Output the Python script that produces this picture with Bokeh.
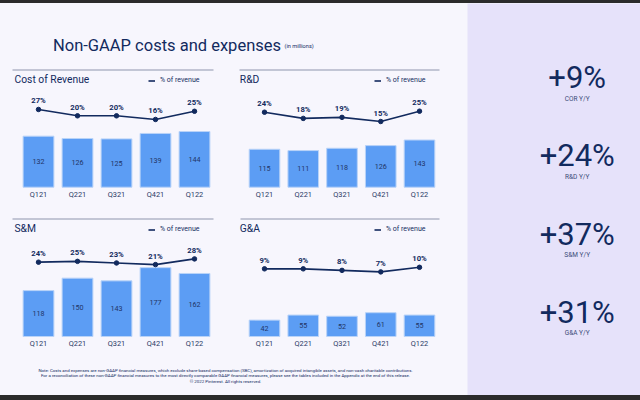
from bokeh.plotting import figure
from bokeh.models import FactorRange, Range1d, Label, ColumnDataSource, Legend, LegendItem, Div
from bokeh.layouts import row, column
from bokeh.transform import dodge
from bokeh.embed import file_html
from bokeh.resources import INLINE
from bokeh.core.properties import value

# ---------------- data ----------------
quarters = ["Q121", "Q221", "Q321", "Q421", "Q122"]
cor_values = [132, 126, 125, 139, 144]
cor_pct = [27, 20, 20, 16, 25]
rd_values = [115, 111, 118, 126, 143]
rd_pct = [24, 18, 19, 15, 25]
sm_values = [118, 150, 143, 177, 162]
sm_pct = [24, 25, 23, 21, 28]
ga_values = [42, 55, 52, 61, 55]
ga_pct = [9, 9, 8, 7, 10]
panel_titles = ["Cost of Revenue", "R&D", "S&M", "G&A"]
yoy_values = ["+9%", "+24%", "+37%", "+31%"]
yoy_labels = ["COR Y/Y", "R&D Y/Y", "S&M Y/Y", "G&A Y/Y"]
title_text = "Non-GAAP costs and expenses"
subtitle_text = "(in millions)"
legend_text = "% of revenue"
footnotes = [
    "Note: Costs and expenses are non-GAAP financial measures, which exclude share-based compensation (SBC), amortization of acquired intangible assets, and non-cash charitable contributions.",
    "For a reconciliation of these non-GAAP financial measures to the most directly comparable GAAP financial measures, please see the tables included in the Appendix at the end of this release.",
    "\u00a9 2022 Pinterest. All rights reserved.",
]

# ---------------- style ----------------
FONT = "Roboto"
BG = "#F7F6FD"
LAV = "#E6E2FA"
NAVY = "#122A5E"
BAR = "#5C9DF4"
BAR_EDGE = "#B9D3F8"
RULE = "#8E95AD"
SUB = "#3A4A78"
DARK = "#2B2B2B"


def panel(title, vals, pcts, W, H, base, k, a, b, c1, step,
          rule_x0, rule_x1, rule_top, title_x, title_top, leg_x, leg_top, lab_off):
    n = len(quarters)
    pad = (W / step - n) / 2
    d = (c1 - (pad + 0.5) * step) / step

    def sx(px):                         # figure pixel -> synthetic x
        return -pad + px / step

    below = H - base
    p = figure(width=W, height=H,
               x_range=FactorRange(*quarters, range_padding=pad, range_padding_units="absolute"),
               y_range=Range1d(-below / k, base / k),
               output_backend="svg", toolbar_location=None,
               x_axis_location=None, y_axis_location=None, min_border=0,
               background_fill_color=BG, border_fill_color=BG, outline_line_color=None)
    p.extra_y_ranges = {"px": Range1d(0, H),
                        "pct": Range1d((-below - a) / b, (base - a) / b)}
    p.grid.visible = False

    src = ColumnDataSource(dict(
        q=quarters, v=vals, zero=[0] * len(vals), mid=[v / 2 for v in vals],
        vt=[str(v) for v in vals], p=pcts, pt=[f"{x}%" for x in pcts]))
    xq = dodge("q", d, range=p.x_range)

    # rule at top of the panel
    p.segment(x0=[sx(rule_x0)], y0=[H - rule_top - 0.5], x1=[sx(rule_x1)], y1=[H - rule_top - 0.5],
              y_range_name="px", line_color=RULE, line_width=1)

    p.vbar(x=xq, top="v", width=0.79, source=src, fill_color=BAR,
           line_color=BAR_EDGE, line_width=1)
    p.text(x=xq, y="mid", text="vt", source=src, text_align="center",
           text_baseline="middle", text_font=value(FONT), text_font_size="7.2px",
           text_color="#223566")
    # category labels under the bars
    p.text(x=xq, y="zero", text="q", source=src, text_align="center",
           text_baseline="middle", y_offset=lab_off, text_font=value(FONT),
           text_font_size="7.4px", text_color="#2B3A66")

    ln = p.line(x=xq, y="p", source=src, y_range_name="pct", line_color=NAVY, line_width=1.6)
    p.scatter(x=xq, y="p", source=src, y_range_name="pct", size=4.5,
              fill_color=NAVY, line_color=NAVY)
    p.text(x=xq, y="p", text="pt", source=src, y_range_name="pct",
           text_align="center", text_baseline="bottom", y_offset=-4,
           text_font=value(FONT), text_font_size="7.7px", text_font_style="bold",
           text_color=NAVY)

    p.add_layout(Label(x=sx(title_x), y=H - title_top, y_range_name="px",
                       text=title, text_font=FONT, text_font_size="10.3px",
                       text_color=NAVY, text_baseline="middle"))

    leg = Legend(items=[LegendItem(label=legend_text, renderers=[ln])],
                 location=(leg_x, H - leg_top - 3.5), orientation="vertical",
                 glyph_width=7, glyph_height=7, label_height=7, label_width=10,
                 label_standoff=5, padding=0, margin=0, spacing=0,
                 border_line_alpha=0, background_fill_alpha=0,
                 label_text_font=FONT, label_text_font_size="7px",
                 label_text_color=NAVY)
    p.add_layout(leg)
    return p


pA = panel(panel_titles[0], cor_values, cor_pct, 230, 147, 123.7, 0.3866, 53.2, 0.909, 38, 39,
           12, 213, 6, 14, 16.3, 148, 17.7, 7.3)
pB = panel(panel_titles[1], rd_values, rd_pct, 237, 147, 123.7, 0.330, 50.2, 1.033, 34, 38.75,
           9, 209, 6, 9.3, 16.3, 144, 17.7, 7.3)
pC = panel(panel_titles[2], sm_values, sm_pct, 230, 147, 126, 0.389, 54.8, 0.814, 38, 39,
           12, 213, 8, 14, 18, 148, 19.5, 7)
pD = panel(panel_titles[3], ga_values, ga_pct, 237, 147, 126, 0.390, 53.9, 1.53, 34, 38.75,
           10, 209, 8, 9.3, 18, 144, 19.5, 7)

# ---------------- header ----------------
hdr = figure(width=467, height=60, x_range=Range1d(0, 467), y_range=Range1d(0, 60),
             output_backend="svg", toolbar_location=None,
             x_axis_location=None, y_axis_location=None, min_border=0,
             background_fill_color=BG, border_fill_color=BG, outline_line_color=None)
hdr.grid.visible = False
hdr.add_layout(Label(x=52.5, y=18, text=title_text, text_font=FONT, text_font_size="16.5px",
                     text_color=NAVY, text_baseline="alphabetic"))
hdr.add_layout(Label(x=284, y=18, text=subtitle_text, text_font=FONT, text_font_size="5.6px",
                     text_color=NAVY, text_baseline="alphabetic"))

# ---------------- footer ----------------
ftr = figure(width=467, height=38, x_range=Range1d(0, 467), y_range=Range1d(0, 38),
             output_backend="svg", toolbar_location=None,
             x_axis_location=None, y_axis_location=None, min_border=0,
             background_fill_color=BG, border_fill_color=BG, outline_line_color=None)
ftr.grid.visible = False
for i, t in enumerate(footnotes):
    ftr.add_layout(Label(x=225, y=25 - 5.4 * i, text=t, text_font=FONT, text_font_size="4.4px",
                         text_color=NAVY, text_align="center", text_baseline="middle"))

# ---------------- right panel ----------------
RW, RH, RSTEP = 173, 392, 78.2
rpad = (RH / RSTEP - len(yoy_labels)) / 2
r_nat = (rpad + 0.5) * RSTEP            # natural centre of first band from top
rp = figure(width=RW, height=RH, x_range=FactorRange("Y/Y"),
            y_range=FactorRange(*yoy_labels[::-1], range_padding=rpad, range_padding_units="absolute"),
            output_backend="svg", toolbar_location=None,
            x_axis_location=None, y_axis_location=None, min_border=0,
            background_fill_color=LAV, border_fill_color=LAV, outline_line_color=None)
rp.grid.visible = False
rsrc = ColumnDataSource(dict(x=["Y/Y"] * len(yoy_labels), y=yoy_labels, v=yoy_values))
x_shift = 109.7 - RW / 2
num_shift = 74.2 - r_nat
rp.text(x="x", y="y", text="v", source=rsrc, text_align="center", text_baseline="middle",
        x_offset=x_shift, y_offset=num_shift,
        text_font=value(FONT), text_font_size="31px", text_color=NAVY)
rp.text(x="x", y="y", text="y", source=rsrc, text_align="center", text_baseline="middle",
        x_offset=x_shift, y_offset=num_shift + 20.8,
        text_font=value(FONT), text_font_size="6.5px", text_color=SUB)

top_strip = Div(width=640, height=3, margin=0, styles={"background-color": DARK})
bottom_strip = Div(width=640, height=5, margin=0, styles={"background-color": DARK})

left = column(hdr, row(pA, pB), row(pC, pD), ftr, styles={"background-color": BG})
layout = column(top_strip, row(left, rp), bottom_strip, styles={"background-color": BG})

open("out.html", "w").write(file_html(layout, INLINE))
